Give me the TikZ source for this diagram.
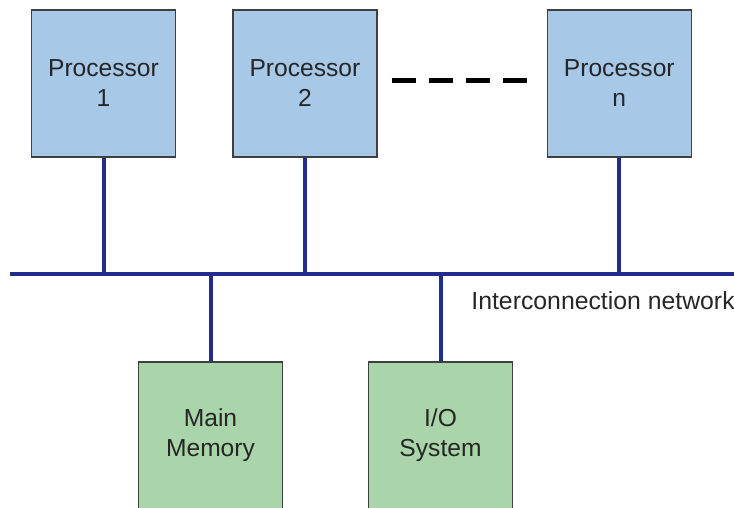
\documentclass[tikz,border=0pt]{standalone}
\usepackage{fontspec}
\setmainfont{Liberation Sans}
\usepackage{xcolor}
\usetikzlibrary{positioning}
\definecolor{procblue}{RGB}{168,200,232}
\definecolor{memgreen}{RGB}{170,212,170}
\definecolor{busnavy}{RGB}{34,44,140}
\tikzset{
  pbox/.style={
    draw=black!75,
    fill=procblue,
    line width=0.7pt,
    align=center,
    inner sep=0pt,
    minimum width=72pt,
    minimum height=73.5pt,
    text=black!85,
    font=\fontsize{12.3}{15}\selectfont
  },
  mbox/.style={pbox,fill=memgreen},
  bline/.style={draw=busnavy,line width=2pt},
  gap/.style={draw=black,line width=2.6pt,dash pattern=on 12pt off 6.5pt}
}
\begin{document}
\begin{tikzpicture}[x=0.5pt,y=-0.5pt,node distance=28pt]
  \useasboundingbox (0,0) rectangle (734,508);
  \node[pbox] at (103.5,83.5) (proc1) {Processor\\1};
  \node[pbox,right=of proc1] (proc2) {Processor\\2};
  \node[pbox,right=84.5pt of proc2] (procn) {Processor\\n};
  \node[mbox] at (210.5,435.5) (mem) {Main\\Memory};
  \node[mbox] at (440.5,435.5) (io) {I/O\\System};
  \coordinate (busL) at (10,274);
  \coordinate (busR) at (734,274);
  \node[anchor=west,inner sep=0pt,text=black!85,font=\fontsize{12.4}{15}\selectfont] at (471,301) (netlbl) {Interconnection network};
  \draw[bline] (busL) -- (busR);
  \draw[bline] (proc1.south) -- (proc1.south |- busL);
  \draw[bline] (proc2.south) -- (proc2.south |- busL);
  \draw[bline] (procn.south) -- (procn.south |- busL);
  \draw[bline] (mem.north) -- (mem.north |- busL);
  \draw[bline] (io.north) -- (io.north |- busL);
  \draw[gap,shorten <=7pt,shorten >=10pt] ([yshift=1.5pt]proc2.east) -- ([yshift=1.5pt]procn.west);
\end{tikzpicture}
\end{document}
